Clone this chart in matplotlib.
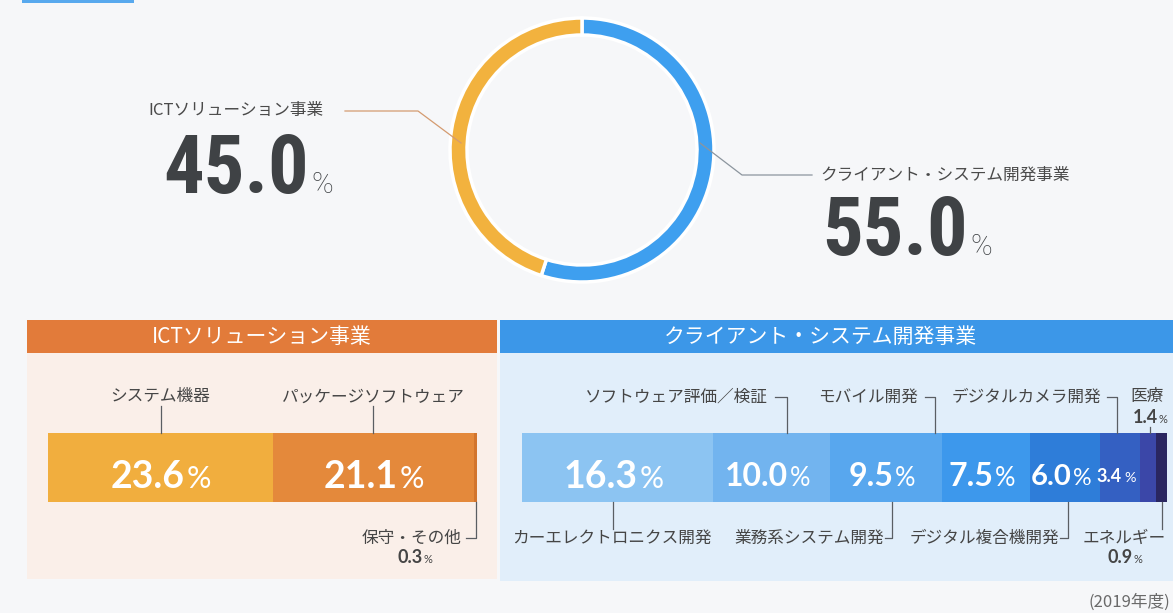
import matplotlib
matplotlib.use("Agg")
import matplotlib.pyplot as plt
from matplotlib import font_manager as fm
from matplotlib.patches import Rectangle

# ---------------- data ----------------
main_labels = ['クライアント・システム開発事業', 'ICTソリューション事業']
main_values = [55.0, 45.0]
main_colors = ['#3E9FEF', '#F2B23E']

ict_title = 'ICTソリューション事業'
ict_labels = ['システム機器', 'パッケージソフトウェア', '保守・その他']
ict_values = [23.6, 21.1, 0.3]
ict_colors = ['#F1AE3E', '#E4893B', '#D2752E']

cl_title = 'クライアント・システム開発事業'
cl_labels = ['カーエレクトロニクス開発', 'ソフトウェア評価／検証', '業務系システム開発', 'モバイル開発',
             'デジタル複合機開発', 'デジタルカメラ開発', '医療', 'エネルギー']
cl_values = [16.3, 10.0, 9.5, 7.5, 6.0, 3.4, 1.4, 0.9]
cl_colors = ['#8CC4F2', '#72B4EF', '#58A7EE', '#3D98EC', '#2E7DD9', '#3460C2', '#3B47A8', '#2A2660']

note = '(2019年度)'

# ---------------- fonts ----------------
avail = {f.name for f in fm.fontManager.ttflist}
def pick(*names):
    for n in names:
        if n in avail:
            return n
    return 'DejaVu Sans'

JP = ['Noto Sans CJK JP', 'DejaVu Sans']
BIG = pick('Roboto Condensed', 'Liberation Sans Narrow', 'DejaVu Sans Condensed', 'Roboto')
NUM = pick('Lato', 'Open Sans', 'DejaVu Sans')
PCT = pick('Roboto', 'Lato', 'DejaVu Sans')

W, H = 1173, 613
fig = plt.figure(figsize=(W / 100, H / 100), dpi=100)
fig.patch.set_facecolor('#F6F7F9')

def px_axes(x0, y0, x1, y1, z):
    return fig.add_axes([x0 / W, 1 - y1 / H, (x1 - x0) / W, (y1 - y0) / H], zorder=z)

# background layer
bg = fig.add_axes([0, 0, 1, 1], zorder=0)
bg.set_xlim(0, W); bg.set_ylim(H, 0); bg.axis('off')
bg.add_patch(Rectangle((22, 0), 112, 3, color='#58A9EE', lw=0))
bg.add_patch(Rectangle((27, 353), 470, 226, color='#FAEFE9', lw=0))
bg.add_patch(Rectangle((27, 320), 470, 33, color='#E27B3A', lw=0))
bg.add_patch(Rectangle((500, 353), 673, 228, color='#E1EEFA', lw=0))
bg.add_patch(Rectangle((500, 320), 673, 33, color='#3C97E8', lw=0))

# foreground layer
fg = fig.add_axes([0, 0, 1, 1], zorder=10)
fg.set_xlim(0, W); fg.set_ylim(H, 0); fg.axis('off')
fg.patch.set_alpha(0)

# ---------------- donut ----------------
cx, cy, R = 582, 150, 132
axp = px_axes(cx - R, cy - R, cx + R, cy + R, 5)
axp.pie(main_values, colors=main_colors, startangle=90, counterclock=False,
        radius=1.0, wedgeprops=dict(width=17 / R, edgecolor='white', linewidth=2.5))
axp.set_xlim(-1, 1); axp.set_ylim(-1, 1); axp.set_aspect('equal'); axp.axis('off')

# leader lines for donut
fg.plot([345, 418, 461], [111, 111, 143], color='#D49B70', lw=0.9)
fg.plot([700, 742, 812], [143, 175, 175], color='#8C959E', lw=0.9)

renderer = fig.canvas.get_renderer()

def num_pct(x, y, num, s1, s2, color, family, weight='bold', pweight='bold', ha='center',
            gap=1, pfamily=None):
    t1 = fg.text(x, y, num, fontsize=s1, color=color, family=family, weight=weight,
                 ha='left', va='baseline')
    t2 = fg.text(x, y, '%', fontsize=s2, color=color, family=pfamily or family, weight=pweight,
                 ha='left', va='baseline')
    w1 = t1.get_window_extent(renderer).width
    w2 = t2.get_window_extent(renderer).width
    tot = w1 + gap + w2
    left = x - tot / 2 if ha == 'center' else (x - tot if ha == 'right' else x)
    t1.set_x(left)
    t2.set_x(left + w1 + gap)

dark = '#3F4245'
fg.text(323, 111, main_labels[1], fontsize=12, family=JP, color='#4A4A4A', ha='right', va='center')
num_pct(163, 193, f'{main_values[1]:.1f}', 58, 21, dark, BIG, weight='heavy', pweight='light',
        ha='left', gap=3, pfamily=PCT)
fg.text(820, 175, main_labels[0], fontsize=12, family=JP, color='#4A4A4A', ha='left', va='center')
num_pct(822, 255, f'{main_values[0]:.1f}', 58, 21, dark, BIG, weight='heavy', pweight='light',
        ha='left', gap=3, pfamily=PCT)

# ---------------- headers ----------------
fg.text(262, 337, ict_title, fontsize=15, family=JP, color='white', ha='center', va='center')
fg.text(820, 337, cl_title, fontsize=15, family=JP, color='white', ha='center', va='center')

# ---------------- bars ----------------
BY0, BY1 = 433, 502
ICT_X0, ICT_X1 = 48, 477
CL_X0, CL_X1 = 522, 1167

def bar_axes(x0, x1, values, colors):
    ax = px_axes(x0, BY0, x1, BY1, 5)
    left = 0
    for v, c in zip(values, colors):
        ax.barh(0, v, left=left, height=1, color=c, lw=0)
        left += v
    ax.set_xlim(0, sum(values)); ax.set_ylim(-0.5, 0.5); ax.axis('off')
    return ax

ax_ict = bar_axes(ICT_X0, ICT_X1, ict_values, ict_colors)
ax_cl = bar_axes(CL_X0, CL_X1, cl_values, cl_colors)

def seg_px(x0, x1, values):
    tot = sum(values)
    out, c = [], 0
    for v in values:
        out.append((x0 + c / tot * (x1 - x0), x0 + (c + v) / tot * (x1 - x0)))
        c += v
    return out

ict_px = seg_px(ICT_X0, ICT_X1, ict_values)
cl_px = seg_px(CL_X0, CL_X1, cl_values)

lc = '#5A5E63'
lab = '#454545'
ymid = 477

# ICT values
for (a, b), v in zip(ict_px[:2], ict_values[:2]):
    num_pct((a + b) / 2, ymid + 11, f'{v:.1f}', 27, 22, 'white', NUM, pweight='normal', gap=2)

# ICT labels
fg.text(160, 397, ict_labels[0], fontsize=12, family=JP, color=lab, ha='center', va='center')
fg.plot([161, 161], [406, BY0], color=lc, lw=0.9)
fg.text(373, 397, ict_labels[1], fontsize=12, family=JP, color=lab, ha='center', va='center')
fg.plot([373, 373], [406, BY0], color=lc, lw=0.9)
fg.text(461, 538, ict_labels[2], fontsize=12, family=JP, color=lab, ha='right', va='center')
fg.plot([466, 476, 476], [538, 538, BY1], color=lc, lw=0.9)
num_pct(415, 563, f'{ict_values[2]:.1f}', 13, 8, lab, NUM, pweight='normal')

# client values
cl_sizes = [27, 23, 23, 23, 21, 13]
for (a, b), v, s in zip(cl_px[:6], cl_values[:6], cl_sizes):
    num_pct((a + b) / 2 - 4, ymid + s * 0.4, f'{v:.1f}', s, s * 0.8, 'white', NUM,
            pweight='normal', gap=2)

# client labels above
fg.text(768, 397, cl_labels[1], fontsize=12, family=JP, color=lab, ha='right', va='center')
fg.plot([775, 787, 787], [397, 397, BY0], color=lc, lw=0.9)
fg.text(918, 397, cl_labels[3], fontsize=12, family=JP, color=lab, ha='right', va='center')
fg.plot([925, 935, 935], [397, 397, BY0], color=lc, lw=0.9)
fg.text(1101, 397, cl_labels[5], fontsize=12, family=JP, color=lab, ha='right', va='center')
fg.plot([1107, 1117, 1117], [397, 397, BY0], color=lc, lw=0.9)
fg.text(1147, 396, cl_labels[6], fontsize=12, family=JP, color=lab, ha='center', va='center')
num_pct(1150, 423, f'{cl_values[6]:.1f}', 13, 8, lab, NUM, pweight='normal')
fg.plot([1150, 1150], [427, BY0], color=lc, lw=0.9)

# client labels below
fg.text(612, 538, cl_labels[0], fontsize=12, family=JP, color=lab, ha='center', va='center')
fg.plot([613, 613], [BY1, 529], color=lc, lw=0.9)
fg.text(884, 538, cl_labels[2], fontsize=12, family=JP, color=lab, ha='right', va='center')
fg.plot([885, 892, 892], [538, 538, BY1], color=lc, lw=0.9)
fg.text(1059, 538, cl_labels[4], fontsize=12, family=JP, color=lab, ha='right', va='center')
fg.plot([1060, 1068, 1068], [538, 538, BY1], color=lc, lw=0.9)
fg.text(1124, 538, cl_labels[7], fontsize=12, family=JP, color=lab, ha='center', va='center')
fg.plot([1162, 1162], [BY1, 529], color=lc, lw=0.9)
num_pct(1125, 563, f'{cl_values[7]:.1f}', 13, 8, lab, NUM, pweight='normal')

fg.text(1170, 602, note, fontsize=12, family=JP, color='#6A6A6A', ha='right', va='center')

fig.savefig('out.png', dpi=100, facecolor=fig.get_facecolor())
